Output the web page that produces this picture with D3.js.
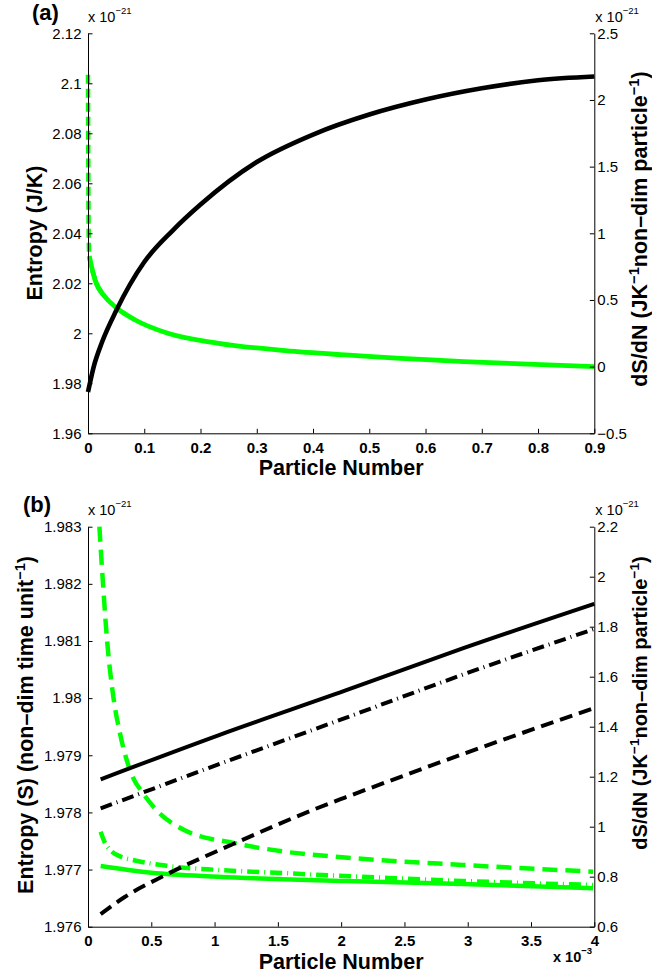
<!DOCTYPE html>
<html>
<head>
<meta charset="utf-8">
<script src="https://cdn.jsdelivr.net/npm/d3@7"></script>
<style>
  html, body { margin: 0; padding: 0; background: #fff; }
  svg { display: block; font-family: "Liberation Sans", Arial, Helvetica, sans-serif; }
</style>
</head>
<body>
<svg id="fig" width="652" height="978"></svg>
<script>
// ---------- panel (a): tick values ----------
const aTicksX = [0, 0.1, 0.2, 0.3, 0.4, 0.5, 0.6, 0.7, 0.8, 0.9];
const aTicksLeft = [1.96, 1.98, 2, 2.02, 2.04, 2.06, 2.08, 2.1, 2.12];
const aTicksRight = [-0.5, 0, 0.5, 1, 1.5, 2, 2.5];

// ---------- panel (a): series (x = particle number) ----------
// entropy, left axis (x 10^-21 J/K)
const aEntropy = [
  [0, 1.9765], [0.01, 1.9865], [0.025, 1.9965], [0.05, 2.009], [0.1, 2.0285],
  [0.15, 2.041], [0.2, 2.0515], [0.3, 2.0685], [0.4, 2.0795], [0.5, 2.0875],
  [0.6, 2.0935], [0.7, 2.098], [0.8, 2.1012], [0.9, 2.1027]
];
// dS/dN, right axis
const aSlopeSolid = [
  [0.002, 0.83], [0.0125, 0.65], [0.03, 0.525], [0.048, 0.45], [0.084, 0.35],
  [0.142, 0.25], [0.232, 0.175], [0.351, 0.12], [0.457, 0.0875], [0.668, 0.0375], [0.9, 0.0]
];
const aSlopeDashed = [
  [0, 2.19], [0.0005, 1.6], [0.001, 1.1], [0.002, 0.85], [0.0125, 0.66], [0.03, 0.53]
];

// ---------- panel (b): tick values ----------
const bTicksX = [0, 0.5, 1, 1.5, 2, 2.5, 3, 3.5, 4];
const bTicksLeft = [1.976, 1.977, 1.978, 1.979, 1.98, 1.981, 1.982, 1.983];
const bTicksRight = [0.6, 0.8, 1, 1.2, 1.4, 1.6, 1.8, 2, 2.2];

// ---------- panel (b): series (x in units of 10^-3) ----------
// entropy, left axis
const bEntropySolid = [[0.1, 1.97858], [1.03, 1.97935], [2.03, 1.98013], [2.96, 1.98087], [4.0, 1.98165]];
const bEntropyDashDot = [[0.1, 1.97807], [1.03, 1.97884], [2.03, 1.97965], [2.96, 1.98041], [4.0, 1.98121]];
const bEntropyDashed = [
  [0.1, 1.97622], [0.29, 1.97652], [0.608, 1.9769], [1.16, 1.97746], [1.91, 1.97816],
  [2.03, 1.97826], [2.96, 1.97902], [3.99, 1.97982]
];
// dS/dN, right axis
const bSlopeSolid = [[0.1, 0.843], [0.5, 0.816], [1.03, 0.8], [2.03, 0.783], [2.96, 0.771], [3.99, 0.754]];
const bSlopeDashDot = [
  [0.1, 0.98], [0.13, 0.94], [0.18, 0.905], [0.26, 0.88], [0.37, 0.865], [0.63, 0.843],
  [1.03, 0.827], [1.555, 0.814], [2.03, 0.803], [2.96, 0.783], [3.99, 0.767]
];
const bSlopeDashed = [
  [0.09, 2.2], [0.12, 1.96], [0.15, 1.75], [0.2, 1.52], [0.25, 1.38], [0.34, 1.215],
  [0.44, 1.13], [0.54, 1.067], [0.76, 0.987], [1.16, 0.934], [1.555, 0.9],
  [2.03, 0.877], [2.96, 0.847], [3.99, 0.82]
];

const GREEN = "#00ff00";
const BLACK = "#000000";
const fmt = d3.format("~g");
const svg = d3.select("#fig");

function addExponent(sel, x, y, exp, size, bold) {
  const t = sel.append("text")
    .attr("x", x).attr("y", y)
    .attr("font-size", size)
    .attr("font-weight", bold ? "bold" : "normal")
    .attr("fill", "#000");
  t.append("tspan").text("x 10");
  t.append("tspan").attr("font-size", size * 0.66).attr("dy", -8).text(exp);
}

function drawPanel(p) {
  const g = svg.append("g");
  const x = d3.scaleLinear().domain(p.xDomain).range([p.left, p.right]);
  const yL = d3.scaleLinear().domain(p.yLDomain).range([p.bottom, p.top]);
  const yR = d3.scaleLinear().domain(p.yRDomain).range([p.bottom, p.top]);

  const lineL = d3.line().x(d => x(d[0])).y(d => yL(d[1])).curve(d3.curveMonotoneX);
  const lineR = d3.line().x(d => x(d[0])).y(d => yR(d[1])).curve(d3.curveMonotoneX);

  // curves
  p.series.forEach(s => {
    g.append("path")
      .datum(s.data)
      .attr("d", s.axis === "L" ? lineL : lineR)
      .attr("fill", "none")
      .attr("stroke", s.color)
      .attr("stroke-width", s.width)
      .attr("stroke-dasharray", s.dash || null)
      .attr("stroke-linejoin", "round");
  });

  const tick = 4.5;
  // bottom axis
  const gx = g.append("g").attr("transform", `translate(0,${p.bottom})`)
    .call(d3.axisBottom(x).tickValues(p.ticksX).tickFormat(fmt)
      .tickSizeInner(-tick).tickSizeOuter(0).tickPadding(9));
  gx.selectAll("text").attr("font-size", 15).attr("font-weight", "bold");

  // left axis
  const gl = g.append("g").attr("transform", `translate(${p.left},0)`)
    .call(d3.axisLeft(yL).tickValues(p.ticksL).tickFormat(fmt)
      .tickSizeInner(-tick).tickSizeOuter(0).tickPadding(6.5));
  gl.selectAll("text").attr("font-size", 15);

  // right axis
  const gr = g.append("g").attr("transform", `translate(${p.right},0)`)
    .call(d3.axisRight(yR).tickValues(p.ticksR).tickFormat(fmt)
      .tickSizeInner(-tick).tickSizeOuter(0).tickPadding(3));
  gr.selectAll("text").attr("font-size", 15);

  [gx, gl, gr].forEach(a => {
    a.attr("font-family", null).attr("font-size", null);
    a.selectAll("path, line").attr("stroke", "#000").attr("stroke-width", 1);
  });

  // panel tag
  g.append("text").attr("x", p.tagX).attr("y", p.tagY)
    .attr("font-size", 22).attr("font-weight", "bold").text(p.tag);

  // exponent markers
  addExponent(g, p.left, p.top - 11.5, "\u221221", 14.5, false);
  addExponent(g, p.right + 1, p.top - 11.5, "\u221221", 14.5, false);

  // x label
  g.append("text")
    .attr("x", (p.left + p.right) / 2).attr("y", p.bottom + 42)
    .attr("text-anchor", "middle").attr("font-size", 21.5).attr("font-weight", "bold")
    .text("Particle Number");

  // left y label
  const yl = g.append("text")
    .attr("transform", `translate(${p.yLabelX},${p.yLabelY}) rotate(-90)`)
    .attr("text-anchor", "middle").attr("font-size", 21.5).attr("font-weight", "bold");
  p.yLabel.forEach(part => {
    const ts = yl.append("tspan").text(part.t);
    if (part.sup) ts.attr("font-size", 14.5).attr("dy", -8);
    if (part.down) ts.attr("dy", 8);
  });

  // right y label
  const yr = g.append("text")
    .attr("transform", `translate(${p.rLabelX},${p.rLabelY}) rotate(-90)`)
    .attr("text-anchor", "middle").attr("font-size", p.rLabelSize).attr("font-weight", "bold");
  const supSize = p.rLabelSize * 0.68;
  [
    { t: "dS/dN (JK" }, { t: "\u22121", sup: true }, { t: "non\u2013dim particle", down: true },
    { t: "\u22121", sup: true }, { t: ")", down: true }
  ].forEach(part => {
    const ts = yr.append("tspan").text(part.t);
    if (part.sup) ts.attr("font-size", supSize).attr("dy", -8);
    if (part.down) ts.attr("dy", 8);
  });

  return { x, yL, yR, g };
}

// panel (a)
drawPanel({
  left: 88, right: 594.3, top: 33.3, bottom: 433.3,
  xDomain: [0, 0.9], yLDomain: [1.96, 2.12], yRDomain: [-0.5, 2.5],
  ticksX: aTicksX, ticksL: aTicksLeft, ticksR: aTicksRight,
  tag: "(a)", tagX: 32, tagY: 20,
  yLabel: [{ t: "Entropy (J/K)" }], yLabelX: 42, yLabelY: 233,
  rLabelX: 647, rLabelY: 229, rLabelSize: 21.5,
  series: [
    { data: aSlopeDashed, axis: "R", color: GREEN, width: 4.5, dash: "9,5" },
    { data: aSlopeSolid, axis: "R", color: GREEN, width: 4.8 },
    { data: aEntropy, axis: "L", color: BLACK, width: 4.6 }
  ]
});

// panel (b)
const pb = drawPanel({
  left: 88, right: 594.3, top: 526.7, bottom: 926.7,
  xDomain: [0, 4], yLDomain: [1.976, 1.983], yRDomain: [0.6, 2.2],
  ticksX: bTicksX, ticksL: bTicksLeft, ticksR: bTicksRight,
  tag: "(b)", tagX: 23, tagY: 512,
  yLabel: [{ t: "Entropy (S) (non\u2013dim time unit" }, { t: "\u22121", sup: true }, { t: ")", down: true }],
  yLabelX: 33, yLabelY: 725,
  rLabelX: 647, rLabelY: 703, rLabelSize: 20,
  series: [
    { data: bSlopeSolid, axis: "R", color: GREEN, width: 4.5 },
    { data: bSlopeDashDot, axis: "R", color: GREEN, width: 4.5, dash: "12,5,1,5" },
    { data: bSlopeDashed, axis: "R", color: GREEN, width: 4.5, dash: "15,8" },
    { data: bEntropySolid, axis: "L", color: BLACK, width: 4 },
    { data: bEntropyDashDot, axis: "L", color: BLACK, width: 4, dash: "12,5,1,5" },
    { data: bEntropyDashed, axis: "L", color: BLACK, width: 4, dash: "13,7" }
  ]
});

// x-axis scale factor for panel (b)
addExponent(pb.g, 553, 962, "\u22123", 14.5, true);
</script>
</body>
</html>
